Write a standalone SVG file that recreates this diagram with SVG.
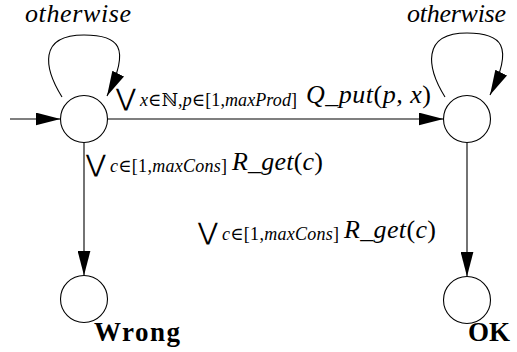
<svg xmlns="http://www.w3.org/2000/svg" width="517" height="352" viewBox="0 0 517 352">
<style>
  .st { fill: #fff; stroke: #000; stroke-width: 1.1; }
  .ed { fill: none; stroke: #000; stroke-width: 1.1; marker-end: url(#ah); }
  .it { font-family: 'Liberation Serif', 'Times New Roman', Times, 'DejaVu Serif', serif; font-style: italic; fill: #000; }
  .rm { font-style: normal; }
  .big { font-family: 'DejaVu Sans ExtraLight', 'DejaVu Serif', 'DejaVu Sans', serif; fill: #000; }
  .bd { font-family: 'Liberation Serif', 'Times New Roman', Times, serif; font-weight: bold; fill: #000; }
</style>
<defs>
  <marker id="ah" markerUnits="userSpaceOnUse" markerWidth="25" markerHeight="13" refX="25" refY="6.5" orient="auto">
    <path d="M0,0 L25,6.5 L0,13 z" fill="#000"/>
  </marker>
</defs>
<rect width="517" height="352" fill="#fff"/>
<g id="edges">
  <path class="ed" d="M10,119 L60.5,119"/>
  <path class="ed" d="M62,97 C44,68 38,35 84,35 C118,35 132,46 107,96"/>
  <path class="ed" d="M445,97 C427,68 421,33 467,33 C501,33 515,45 490,95"/>
  <path class="ed" d="M107.5,119 L443.5,119"/>
  <path class="ed" d="M84,142.5 L84,275.5"/>
  <path class="ed" d="M467,142.5 L467,276.5"/>
</g>
<g id="s0"><circle class="st" cx="84" cy="119" r="23.5"/></g>
<g id="s1"><circle class="st" cx="467" cy="119" r="23.5"/></g>
<g id="wrong"><circle class="st" cx="84" cy="299" r="23.5"/>
  <text class="bd" x="94" y="341" font-size="27" textLength="86" lengthAdjust="spacing">Wrong</text></g>
<g id="ok"><circle class="st" cx="467" cy="300" r="23.5"/>
  <text class="bd" x="468" y="341" font-size="27" textLength="42" lengthAdjust="spacing">OK</text></g>
<g id="labels">
  <text class="it" x="25" y="22" font-size="26" textLength="106" lengthAdjust="spacing">otherwise</text>
  <text class="it" x="407" y="22" font-size="26" textLength="99" lengthAdjust="spacing">otherwise</text>

  <text class="big" x="116" y="106" font-size="24">⋁</text>
  <text class="it" x="140" y="106" font-size="18" textLength="157" lengthAdjust="spacing">x<tspan class="rm">∈ℕ,</tspan>p<tspan class="rm">∈[1,</tspan>maxProd<tspan class="rm">]</tspan></text>
  <text class="it" x="306" y="103" font-size="26" textLength="125" lengthAdjust="spacing">Q_put<tspan class="rm">(</tspan>p, x<tspan class="rm">)</tspan></text>

  <text class="big" x="86" y="172" font-size="24">⋁</text>
  <text class="it" x="110" y="172" font-size="18" textLength="117" lengthAdjust="spacing">c<tspan class="rm">∈[1,</tspan>maxCons<tspan class="rm">]</tspan></text>
  <text class="it" x="232" y="170" font-size="26" textLength="91" lengthAdjust="spacing">R_get<tspan class="rm">(</tspan>c<tspan class="rm">)</tspan></text>

  <text class="big" x="198" y="240" font-size="24">⋁</text>
  <text class="it" x="222" y="240" font-size="18" textLength="117" lengthAdjust="spacing">c<tspan class="rm">∈[1,</tspan>maxCons<tspan class="rm">]</tspan></text>
  <text class="it" x="344" y="238" font-size="26" textLength="92" lengthAdjust="spacing">R_get<tspan class="rm">(</tspan>c<tspan class="rm">)</tspan></text>
</g>
</svg>
